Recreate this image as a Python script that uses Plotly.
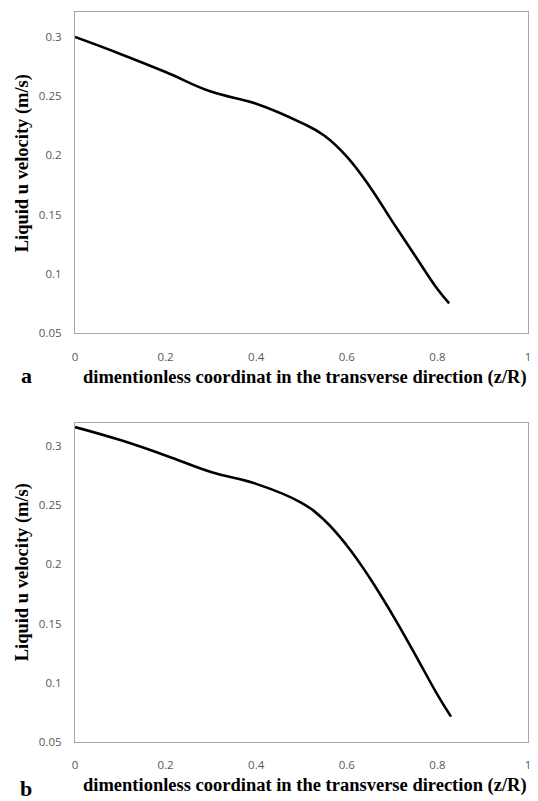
import plotly.graph_objects as go
from plotly.subplots import make_subplots

# Liquid u velocity along the transverse direction, two cases (a) and (b)
z_over_r_a = [0.0, 0.1, 0.2, 0.3, 0.4, 0.5, 0.55, 0.6, 0.65, 0.7, 0.75, 0.8, 0.826]
velocity_a = [0.300, 0.2857, 0.2704, 0.2539, 0.2437, 0.2275, 0.2168, 0.1990, 0.1740, 0.1445, 0.1157, 0.0872, 0.0751]

z_over_r_b = [0.0, 0.1, 0.2, 0.3, 0.4, 0.5, 0.55, 0.6, 0.65, 0.7, 0.75, 0.8, 0.83]
velocity_b = [0.316, 0.305, 0.292, 0.278, 0.268, 0.252, 0.2375, 0.2160, 0.1890, 0.158, 0.1245, 0.090, 0.0714]

x_ticks = [0, 0.2, 0.4, 0.6, 0.8, 1]
x_tick_text = ["0", "0.2", "0.4", "0.6", "0.8", "1"]
y_ticks = [0.05, 0.1, 0.15, 0.2, 0.25, 0.3]
y_tick_text = ["0.05", "0.1", "0.15", "0.2", "0.25", "0.3"]

panel_labels = ["a", "b"]
x_title = "dimentionless coordinat in the transverse direction (z/R)"
y_title = "Liquid u velocity (m/s)"

W, H = 538, 801
L, R, T, B = 75, 7, 12, 59
plot_w = W - L - R
plot_h = H - T - B

fig = make_subplots(rows=2, cols=1, shared_xaxes=False)

for row, (xs, ys) in enumerate([(z_over_r_a, velocity_a), (z_over_r_b, velocity_b)], start=1):
    fig.add_trace(
        go.Scatter(x=xs, y=ys, mode="lines",
                   line=dict(color="black", width=2.6, shape="spline", smoothing=1.2),
                   showlegend=False, hoverinfo="skip"),
        row=row, col=1,
    )

tick_font = dict(family="Open Sans, Liberation Sans, sans-serif", size=11.5, color="#595959")
axis_common = dict(showline=True, linecolor="#a6a6a6", linewidth=1.3, mirror=True,
                   showgrid=False, zeroline=False, ticks="", tickfont=tick_font)

# panel a occupies pixels 12..333, panel b 423..742
dom_a = [1 - (333 - T) / plot_h, 1.0]
dom_b = [0.0, (742 - 423) / plot_h]

fig.update_layout(
    width=W, height=H,
    margin=dict(l=L, r=R, t=T, b=B),
    paper_bgcolor="white", plot_bgcolor="white",
    xaxis=dict(range=[0, 1], tickvals=x_ticks, ticktext=x_tick_text,
               ticklabelstandoff=13, anchor="y", **axis_common),
    yaxis=dict(range=[0.05, 0.3211], tickvals=y_ticks, ticktext=y_tick_text,
               domain=dom_a, ticklabelstandoff=10, anchor="x", **axis_common),
    xaxis2=dict(range=[0, 1], tickvals=x_ticks, ticktext=x_tick_text,
                ticklabelstandoff=12, anchor="y2", **axis_common),
    yaxis2=dict(range=[0.05, 0.3194], tickvals=y_ticks, ticktext=y_tick_text,
                domain=dom_b, ticklabelstandoff=10, anchor="x2", **axis_common),
)

title_font = dict(family="Liberation Serif, Times New Roman, serif", size=18.5, color="black")
label_font = dict(family="Liberation Serif, Times New Roman, serif", size=22, color="black")


# paper coordinates are relative to the plotting area, convert from page pixels
def px_x(px):
    return (px - L) / plot_w


def px_y(py):
    return 1 - (py - T) / plot_h


annotations = []
for label, ty_x, lbl_y, yt_center in [
    (panel_labels[0], 377, 376, 163),
    (panel_labels[1], 785, 789, 572),
]:
    annotations.append(dict(text=f"<b>{x_title}</b>", x=px_x(307), y=px_y(ty_x),
                            xref="paper", yref="paper", showarrow=False,
                            xanchor="center", yanchor="middle", font=title_font))
    annotations.append(dict(text=f"<b>{label}</b>", x=px_x(26), y=px_y(lbl_y),
                            xref="paper", yref="paper", showarrow=False,
                            xanchor="center", yanchor="middle", font=label_font))
    annotations.append(dict(text=f"<b>{y_title}</b>", x=px_x(22), y=px_y(yt_center),
                            xref="paper", yref="paper", showarrow=False, textangle=-90,
                            xanchor="center", yanchor="middle", font=title_font))

fig.update_layout(annotations=annotations)

fig.write_html("out.html")
